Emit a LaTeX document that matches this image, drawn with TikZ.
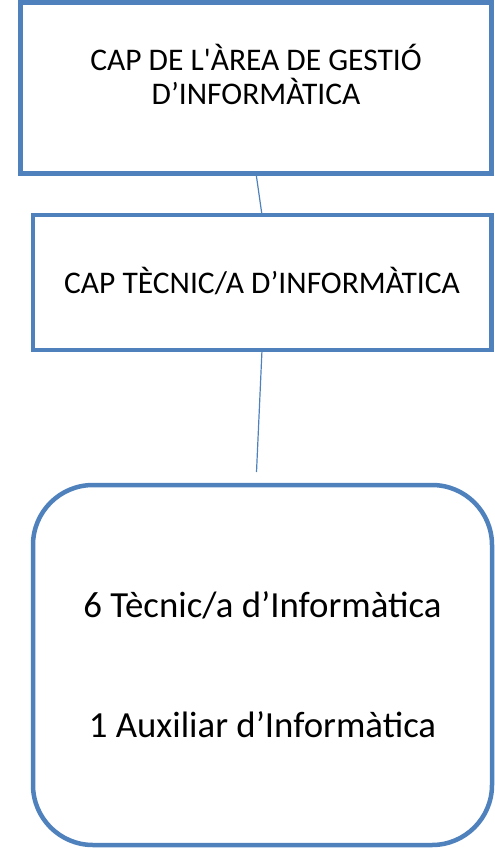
\documentclass[tikz,border=0pt]{standalone}
\usepackage{fontspec}
\setmainfont{Carlito}
\usetikzlibrary{positioning}
\definecolor{orgblue}{HTML}{4F81BD}

\begin{document}
\begin{tikzpicture}[box/.style={rectangle, draw=orgblue, line width=4.5pt, outer sep=0pt, inner sep=0pt, align=center},
    title/.style={font=\fontsize{31.5}{34}\selectfont},
    link/.style={draw=orgblue, line width=1.2pt}]

    \useasboundingbox (0pt,0pt) rectangle (495pt,-859pt);

    \node[box, title, minimum width=471pt, minimum height=171pt, text height=38pt, text depth=4pt] (capgestio) at (256pt,-87.8pt) {CAP DE L\textquotesingle ÀREA DE GESTIÓ\\D’INFORMÀTICA};
    \node[box, title, below=41.7pt of capgestio, xshift=6pt, minimum width=458.5pt, minimum height=135pt, text height=25pt, text depth=4pt] (captecnic) {CAP TÈCNIC/A D’INFORMÀTICA};
    \node[box, below=135pt of captecnic, xshift=0.5pt, rounded corners=60pt, minimum width=459pt, minimum height=360pt, text height=150pt, text depth=6pt, font=\fontsize{36.8}{120}\selectfont] (personal) {6 Tècnic/a d’Informàtica\\1 Auxiliar d’Informàtica};

    \coordinate[above=13pt of personal.north, xshift=-6pt] (fipersonal);

    \draw[link] (capgestio.south) -- (captecnic.north);
    \draw[link] (captecnic.south) -- (fipersonal);
\end{tikzpicture}
\end{document}
